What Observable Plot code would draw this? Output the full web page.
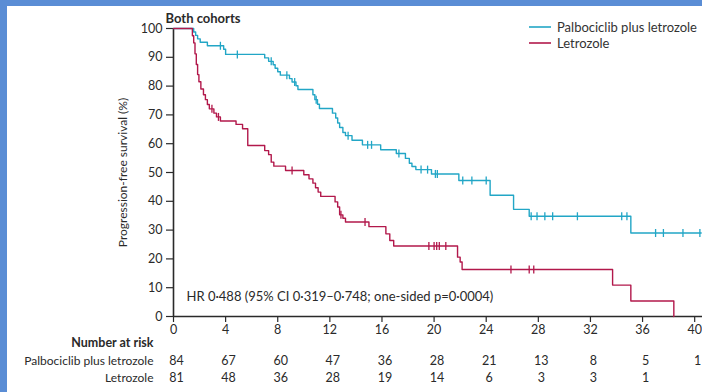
<!DOCTYPE html>
<html>
<head>
<meta charset="utf-8">
<script src="https://cdn.jsdelivr.net/npm/d3@7"></script>
<script src="https://cdn.jsdelivr.net/npm/@observablehq/plot@0.6"></script>
<style>
  html, body { margin: 0; padding: 0; background: #fff; }
  #wrap { position: relative; width: 702px; height: 392px; overflow: hidden; background: #fff; font-family: Lato, "Open Sans", sans-serif; }
  #bandTop { position: absolute; left: 0; top: 0; width: 702px; height: 6px; background: #5a8dd5; }
  #bandLeft { position: absolute; left: 0; top: 0; width: 7px; height: 392px; background: #5a8dd5; }
  #legend { position: absolute; left: 529px; top: 19px; font-size: 13px; color: #333; line-height: 16px; white-space: nowrap; }
  #legend .row { display: flex; align-items: center; height: 16px; white-space: nowrap; }
  #legend svg { margin-right: 6px; flex: none; }
</style>
</head>
<body>
<div id="wrap">
  <div id="chart"></div>
  <div id="legend"></div>
  <div id="bandTop"></div>
  <div id="bandLeft"></div>
</div>
<script>
// ---- data ----
const seriesNames = ["Palbociclib plus letrozole", "Letrozole"];
const seriesColors = ["#22a6c6", "#b2184b"];

// Kaplan-Meier steps: time (months) and survival (%) after each step
const palboTime = [0, 1.55, 1.7, 1.85, 2.05, 2.6, 3.85, 4.0, 7.0, 7.3, 7.65, 7.8, 8.0, 8.2, 8.9, 9.1, 9.4, 9.55, 10.7, 10.85, 11.05, 11.2, 12.2, 12.45, 12.6, 12.75, 13.0, 13.2, 13.7, 14.5, 15.9, 17.1, 17.8, 18.1, 18.3, 18.6, 19.8, 21.9, 24.3, 26.1, 27.3, 35.1, 40.5];
const palboSurv = [100, 98.8, 97.6, 96.4, 95.2, 94.0, 92.8, 91.0, 89.8, 88.6, 87.4, 86.2, 85.0, 83.8, 82.6, 81.4, 80.1, 78.8, 77.0, 75.3, 73.7, 72.2, 70.6, 68.9, 67.2, 65.6, 63.9, 62.8, 61.2, 59.6, 57.9, 56.6, 54.9, 53.2, 52.1, 51.0, 49.5, 47.2, 42.1, 37.2, 34.8, 29.0, 29.0];
const palboCensor = [3.6, 4.9, 7.5, 8.7, 9.3, 10.95, 13.4, 14.9, 15.2, 17.3, 19.0, 19.5, 20.1, 20.25, 22.2, 22.9, 24.0, 27.45, 27.9, 28.5, 29.1, 31.0, 34.4, 34.8, 37.0, 37.6, 39.1, 40.4];

const letroTime = [0, 1.45, 1.55, 1.65, 1.75, 1.85, 1.95, 2.1, 2.3, 2.45, 2.6, 2.75, 3.1, 3.3, 3.6, 4.8, 5.3, 5.7, 7.0, 7.3, 7.5, 7.7, 8.6, 10.0, 10.4, 10.7, 10.9, 11.1, 11.3, 12.4, 12.6, 12.75, 13.0, 13.2, 15.0, 16.3, 16.6, 16.9, 21.8, 22.0, 22.15, 33.7, 35.1, 38.4];
const letroSurv = [100, 97.5, 95.0, 91.2, 87.5, 84.0, 81.5, 79.0, 77.0, 75.3, 73.6, 72.1, 70.6, 69.3, 67.9, 66.7, 65.2, 59.4, 57.6, 56.2, 53.6, 52.2, 50.7, 49.2, 47.8, 46.3, 44.7, 43.2, 41.7, 39.8, 38.0, 35.3, 34.1, 32.8, 31.2, 28.7, 26.4, 24.5, 20.6, 18.9, 16.3, 10.9, 5.4, 0];
const letroCensor = [2.95, 3.45, 9.1, 12.85, 14.7, 19.6, 20.0, 20.2, 20.4, 20.9, 25.9, 27.3, 27.65];

const xTicks = [0, 4, 8, 12, 16, 20, 24, 28, 32, 36, 40];
const yTicks = [0, 10, 20, 30, 40, 50, 60, 70, 80, 90, 100];
const riskTimes = [0, 4, 8, 12, 16, 20, 24, 28, 32, 36, 40];
const palboRisk = [84, 67, 60, 47, 36, 28, 21, 13, 8, 5, 1];
const letroRisk = [81, 48, 36, 28, 19, 14, 6, 3, 3, 1];

const titleText = "Both cohorts";
const yLabel = "Progression-free survival (%)";
const hrText = "HR 0·488 (95% CI 0·319–0·748; one-sided p=0·0004)";
const riskHeader = "Number at risk";

// ---- build tables ----
function steps(times, surv) { return times.map((t, i) => ({t, s: surv[i]})); }
function survAt(times, surv, t) {
  let s = surv[0];
  for (let i = 0; i < times.length; i++) if (times[i] <= t) s = surv[i];
  return s;
}
const palbo = steps(palboTime, palboSurv);
const letro = steps(letroTime, letroSurv);
const censors = [
  ...palboCensor.map(t => ({t, s: survAt(palboTime, palboSurv, t), g: 0})),
  ...letroCensor.map(t => ({t, s: survAt(letroTime, letroSurv, t), g: 1}))
];

const vbar = {
  draw(context, size) {
    const r = Math.sqrt(size / Math.PI);
    context.moveTo(0, -r);
    context.lineTo(0, r);
  }
};

const ink = "#2a2a2a";
const fs = 12.5;

const chart = Plot.plot({
  width: 702,
  height: 392,
  marginLeft: 173,
  marginRight: 0,
  marginTop: 28,
  marginBottom: 76,
  x: {domain: [0, 40.6]},
  y: {domain: [0, 100]},
  style: {fontFamily: "Lato, 'Open Sans', sans-serif", fontSize: "12px", color: ink, background: "transparent", overflow: "visible"},
  marks: [
    Plot.axisY({ticks: yTicks, tickSize: 7, tickPadding: 4, label: null, fontSize: fs, stroke: ink, strokeWidth: 1.2}),
    Plot.axisX({ticks: xTicks, tickSize: 6, tickPadding: 3, label: null, fontSize: fs, stroke: ink, strokeWidth: 1.2}),
    Plot.ruleX([0], {stroke: ink, strokeWidth: 1.6}),
    Plot.ruleY([0], {stroke: ink, strokeWidth: 1.6}),
    Plot.line(palbo, {x: "t", y: "s", curve: "step-after", stroke: seriesColors[0], strokeWidth: 1.4}),
    Plot.line(letro, {x: "t", y: "s", curve: "step-after", stroke: seriesColors[1], strokeWidth: 1.4}),
    Plot.dot(censors, {x: "t", y: "s", symbol: vbar, r: 4, fill: "none", stroke: d => seriesColors[d.g], strokeWidth: 1.3}),
    Plot.text([titleText], {frameAnchor: "top-left", dx: -8, dy: -15, textAnchor: "start", fontWeight: "bold", fontSize: 13, fill: ink}),
    Plot.text([yLabel], {frameAnchor: "left", dx: -50, rotate: -90, textAnchor: "middle", fontSize: 12, fill: ink}),
    Plot.text([hrText], {frameAnchor: "bottom-left", dx: 13, dy: -16, textAnchor: "start", fontSize: 13, fill: ink}),
    Plot.text([riskHeader], {frameAnchor: "bottom-left", dx: -20, dy: 30, textAnchor: "end", fontWeight: "bold", fontSize: 12.5, fill: ink}),
    Plot.text([seriesNames[0]], {frameAnchor: "bottom-left", dx: -20, dy: 48, textAnchor: "end", fontSize: 12, fill: ink}),
    Plot.text([seriesNames[1]], {frameAnchor: "bottom-left", dx: -20, dy: 65, textAnchor: "end", fontSize: 12, fill: ink}),
    Plot.text(palboRisk, {x: (d, i) => riskTimes[i], text: d => String(d), frameAnchor: "bottom", dy: 48, dx: 3, fontSize: 12.5, fill: ink}),
    Plot.text(letroRisk, {x: (d, i) => riskTimes[i], text: d => String(d), frameAnchor: "bottom", dy: 65, dx: 3, fontSize: 12.5, fill: ink})
  ]
});
document.getElementById("chart").appendChild(chart);

// legend
const legend = document.getElementById("legend");
seriesNames.forEach((name, i) => {
  const row = document.createElement("div");
  row.className = "row";
  row.innerHTML = `<svg width="22" height="4"><line x1="0" x2="22" y1="2" y2="2" stroke="${seriesColors[i]}" stroke-width="1.6"/></svg><span>${name}</span>`;
  legend.appendChild(row);
});
</script>
</body>
</html>
